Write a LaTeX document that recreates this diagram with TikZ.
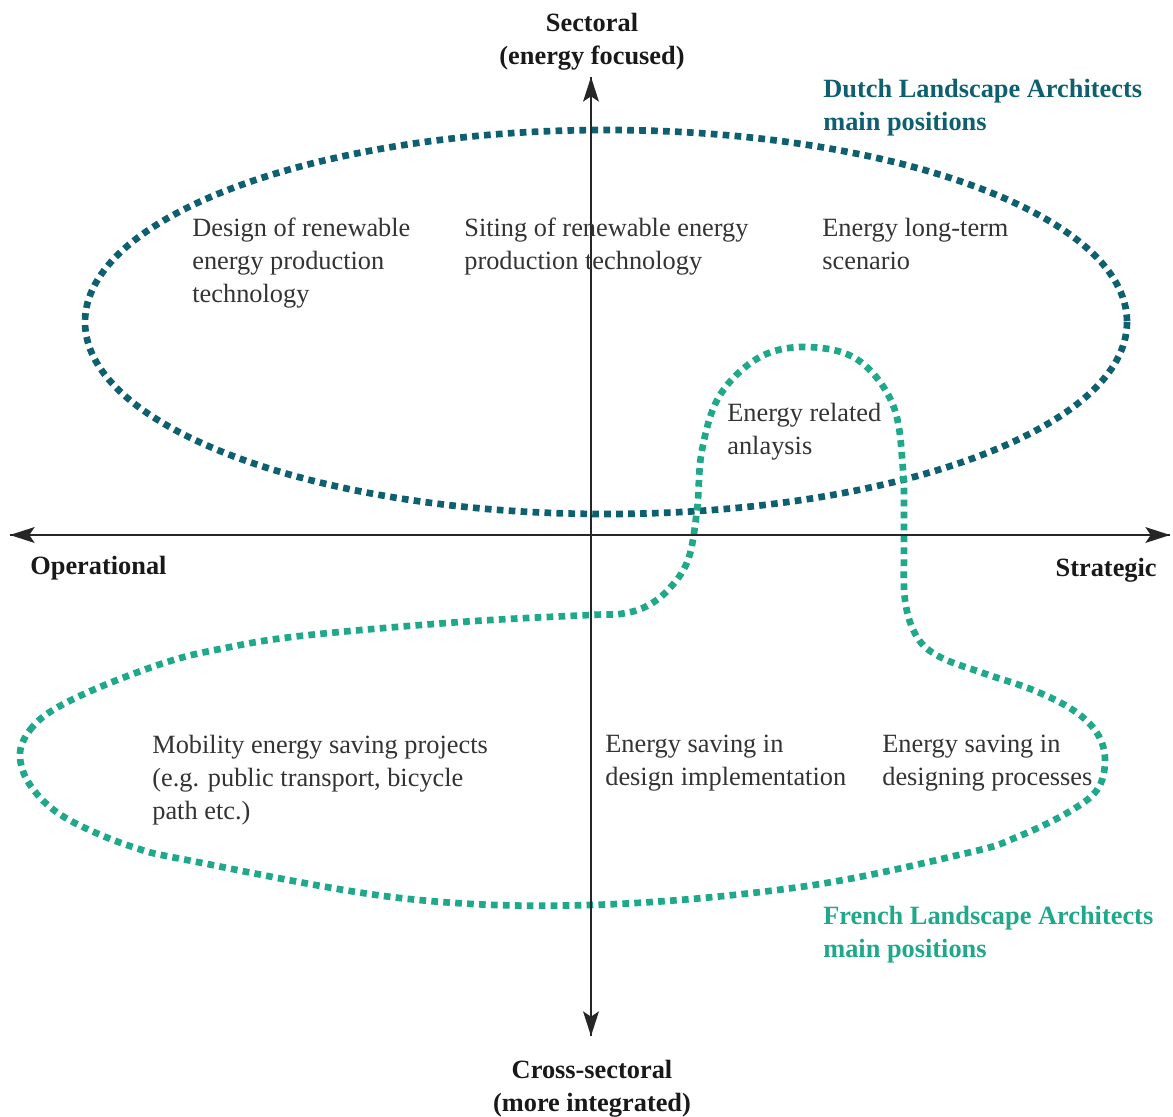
\documentclass[tikz,border=0pt]{standalone}
\usepackage{fontspec}
\setmainfont{Liberation Serif}
\usetikzlibrary{arrows.meta}
\definecolor{dutchcol}{RGB}{14,96,112}
\definecolor{frenchcol}{RGB}{31,168,138}
\definecolor{textcol}{RGB}{51,51,51}
\tikzset{
  axis/.style={line width=1.1pt, draw=black!85, -{Stealth[length=14pt,width=9pt,inset=3pt]}},
  dotline/.style={line width=3.8pt, dash pattern=on 3.8pt off 3pt},
  lbl/.style={anchor=north west, inner sep=0pt, align=left, text=textcol,
    font=\fontsize{15}{18.7}\selectfont},
  axlbl/.style={inner sep=0pt, align=center, text=black!90,
    font=\fontsize{15}{18.7}\selectfont\bfseries},
  grplbl/.style={anchor=north west, inner sep=0pt, align=left,
    font=\fontsize{15}{18.7}\selectfont\bfseries}
}
\begin{document}
\begin{tikzpicture}[x=0.02cm, y=-0.02cm]
  \useasboundingbox (0,0) rectangle (1173,1116);
  % groups
  \draw[dotline, dutchcol] (606,322) ellipse [x radius=521, y radius=192];
  \draw[dotline, frenchcol] plot[smooth cycle, tension=0.6] coordinates {
    (20,753) (30,730) (53,710) (100,687) (167,662) (220,649) (300,636)
    (460,622) (590,615) (620,614) (645,607) (668,590) (688,560) (697,510)
    (702,450) (720,395) (760,357) (808,347) (858,360) (893,405) (903,470)
    (904,540) (905,600) (917,637) (940,657) (983,673) (1033,690) (1073,710)
    (1097,733) (1105,760) (1097,790) (1067,813) (1017,837) (967,853)
    (800,887) (590,905) (400,898) (187,860) (133,847) (83,827) (50,807)
    (27,780)};
  % axes
  \coordinate (west) at (10,535);
  \coordinate (east) at (1170,535);
  \coordinate (north) at (591,77);
  \coordinate (south) at (591,1036);
  \draw[axis] (east) -- (west);
  \draw[axis] (west) -- (east);
  \draw[axis] (south) -- (north);
  \draw[axis] (north) -- (south);
  % axis labels
  \node[axlbl, anchor=south] (sectoral) at (592,71) {Sectoral\\(energy focused)};
  \node[axlbl, anchor=north] (crosssec) at (592,1060) {Cross-sectoral\\(more integrated)};
  \node[axlbl, anchor=north west] (operational) at (30,556) {Operational};
  \node[axlbl, anchor=north east] (strategic) at (1157,558) {Strategic};
  % group labels
  \node[grplbl, text=dutchcol] (dutch) at (823,79) {Dutch Landscape Architects\\main positions};
  \node[grplbl, text=frenchcol] (french) at (823,906) {French Landscape Architects\\main positions};
  % positions
  \node[lbl] (design) at (192,218) {Design of renewable\\energy production\\technology};
  \node[lbl] (siting) at (464,218) {Siting of renewable energy\\production technology};
  \node[lbl] (scenario) at (822,218) {Energy long-term\\scenario};
  \node[lbl] (analysis) at (727,403) {Energy related\\anlaysis};
  \node[lbl] (mobility) at (152,735) {Mobility energy saving projects\\(e.g. public transport, bicycle\\path etc.)};
  \node[lbl] (implement) at (605,735) {Energy saving in\\design implementation};
  \node[lbl] (processes) at (882,735) {Energy saving in\\designing processes};
\end{tikzpicture}
\end{document}
